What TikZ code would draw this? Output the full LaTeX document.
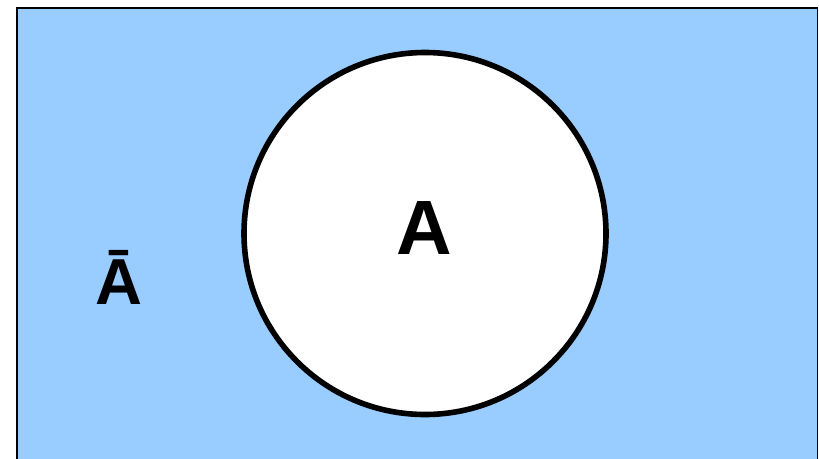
\documentclass[tikz,border=0pt]{standalone}
\usepackage{fontspec}
\setmainfont{Liberation Sans}
\definecolor{setblue}{HTML}{99CCFF}
\begin{document}
\begin{tikzpicture}[x=1pt,y=-1pt,
  universe/.style={fill=setblue,draw=black,line width=1.6pt},
  setcircle/.style={circle,fill=white,draw=black,line width=5.6pt,minimum size=362pt,inner sep=0pt},
  biglabel/.style={anchor=base,inner sep=0pt,font=\bfseries}]
\useasboundingbox (0,0) rectangle (819,458);
\clip (0,0) rectangle (819,458);
\draw[universe] (17,8) rectangle (817.5,470);
\node[setcircle] (setA) at (425,233.5) {};
\node[biglabel,font=\fontsize{77}{77}\selectfont\bfseries] (labA) at (424.5,254.5) {A};
\node[biglabel,font=\fontsize{65}{65}\selectfont\bfseries] (labAbar) at (118.5,304.5) {Ā};
\end{tikzpicture}
\end{document}
